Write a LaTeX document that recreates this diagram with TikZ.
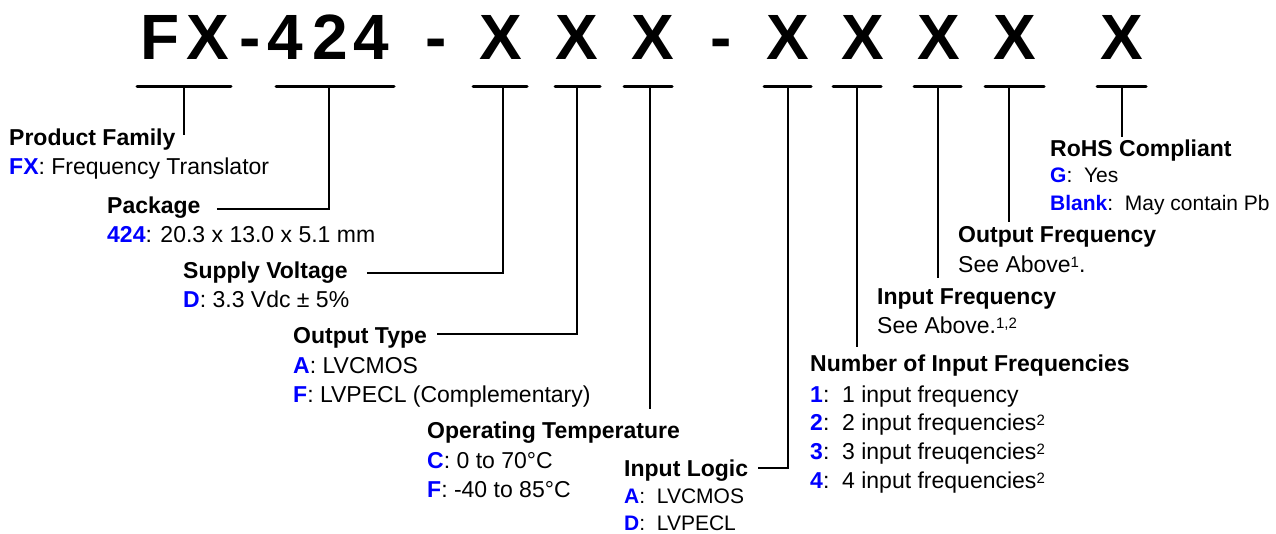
\documentclass[tikz,border=0pt]{standalone}
\usepackage{fontspec}
\setmainfont{Liberation Sans}
\definecolor{kblue}{RGB}{0,0,255}
\newcommand\kb[1]{\textcolor{kblue}{\textbf{#1}}}
\newcommand\sups[1]{\raisebox{5pt}{\fontsize{15}{15}\selectfont #1}}
\begin{document}
\begin{tikzpicture}[x=1pt,y=-1pt,
  hd/.style={anchor=base west, inner sep=0pt, font=\fontsize{23}{27}\selectfont\bfseries},
  tx/.style={anchor=base west, inner sep=0pt, font=\fontsize{23}{27}\selectfont},
  sm/.style={anchor=base west, inner sep=0pt, font=\fontsize{21}{25}\selectfont},
  ttl/.style={anchor=base, inner sep=0pt, font=\fontsize{64}{70}\selectfont\bfseries},
  ln/.style={line width=2.5pt},
  ul/.style={line width=3pt, line cap=round}]
\useasboundingbox (0,0) rectangle (1276,534);
% title characters
\node[ttl] (t1) at (160,60) {F};
\node[ttl] (t2) at (208,60) {X};
\node[ttl] (t3) at (250,60) {-};
\node[ttl] (t4) at (285,60) {4};
\node[ttl] (t5) at (330,60) {2};
\node[ttl] (t6) at (371,60) {4};
\node[ttl] (t7) at (436,60) {-};
\node[ttl] (t8) at (501,60) {X};
\node[ttl] (t9) at (577,60) {X};
\node[ttl] (t10) at (653,60) {X};
\node[ttl] (t11) at (721,60) {-};
\node[ttl] (t12) at (788,60) {X};
\node[ttl] (t13) at (863,60) {X};
\node[ttl] (t14) at (939,60) {X};
\node[ttl] (t15) at (1015,60) {X};
\node[ttl] (t16) at (1122,60) {X};
% underlines and stem tops
\coordinate (u1) at (184,87);
\coordinate (u2) at (329,87);
\coordinate (u3) at (503,87);
\coordinate (u4) at (577,87);
\coordinate (u5) at (650,87);
\coordinate (u6) at (788,87);
\coordinate (u7) at (857,87);
\coordinate (u8) at (938,87);
\coordinate (u9) at (1009,87);
\coordinate (u10) at (1122,87);
\draw[ul] (137,87) -- (231,87);
\draw[ul] (276,87) -- (394,87);
\draw[ul] (473,87) -- (527,87);
\draw[ul] (555,87) -- (600,87);
\draw[ul] (624,87) -- (672,87);
\draw[ul] (764,87) -- (811,87);
\draw[ul] (833,87) -- (881,87);
\draw[ul] (914,87) -- (961,87);
\draw[ul] (985,87) -- (1044,87);
\draw[ul] (1097,87) -- (1146,87);
% labels
\node[hd] (pf) at (9,146) {Product Family};
\node[tx] (pf1) at (9,175) {\kb{FX}: Frequency Translator};
\node[hd] (pk) at (107,214) {Package};
\node[tx] (pk1) at (107,243) {\kb{424}: 20.3 x 13.0 x 5.1 mm};
\node[hd] (sv) at (183,279) {Supply Voltage};
\node[tx] (sv1) at (183,308) {\kb{D}: 3.3 Vdc ± 5\%};
\node[hd] (otp) at (293,343) {Output Type};
\node[tx] (otp1) at (293,373) {\kb{A}: LVCMOS};
\node[tx] (otp2) at (293,402) {\kb{F}: LVPECL (Complementary)};
\node[hd] (opt) at (427,438) {Operating Temperature};
\node[tx] (opt1) at (427,468) {\kb{C}: 0 to 70°C};
\node[tx] (opt2) at (427,497) {\kb{F}: -40 to 85°C};
\node[hd] (il) at (624,476) {Input Logic};
\node[sm] (il1) at (624,503) {\kb{A}:\ \ LVCMOS};
\node[sm] (il2) at (624,530) {\kb{D}:\ \ LVPECL};
\node[hd] (nf) at (810,371) {Number of Input Frequencies};
\node[tx] (nf1) at (810,402) {\kb{1}:\ \ 1 input frequency};
\node[tx] (nf2) at (810,430) {\kb{2}:\ \ 2 input frequencies\sups{2}};
\node[tx] (nf3) at (810,459) {\kb{3}:\ \ 3 input freuqencies\sups{2}};
\node[tx] (nf4) at (810,488) {\kb{4}:\ \ 4 input frequencies\sups{2}};
\node[hd] (inf) at (877,305) {Input Frequency};
\node[tx] (inf1) at (877,334) {See Above.\sups{1,2}};
\node[hd] (of) at (958,243) {Output Frequency};
\node[tx] (of1) at (958,273) {See Above\sups{1}.};
\node[hd] (rh) at (1050,157) {RoHS Compliant};
\node[sm] (rh1) at (1050,183) {\kb{G}:\ \ Yes};
\node[sm] (rh2) at (1050,211) {\kb{Blank}:\ \ May contain Pb};
% connectors
\draw[ln] (u1) -- ([yshift=11pt]u1 |- pf.base);
\draw[ln] ([shift={(16pt,5pt)}]pk.base east) -| (u2);
\draw[ln] ([shift={(19pt,6pt)}]sv.base east) -| (u3);
\draw[ln] ([shift={(10pt,9pt)}]otp.base east) -| (u4);
\draw[ln] (u5) -- ([yshift=29pt]u5 |- opt.base);
\draw[ln] ([shift={(10pt,8pt)}]il.base east) -| (u6);
\draw[ln] (u7) -- ([yshift=24pt]u7 |- nf.base);
\draw[ln] (u8) -- ([yshift=27pt]u8 |- inf.base);
\draw[ln] (u9) -- ([yshift=21pt]u9 |- of.base);
\draw[ln] (u10) -- ([yshift=20pt]u10 |- rh.base);
\end{tikzpicture}
\end{document}
